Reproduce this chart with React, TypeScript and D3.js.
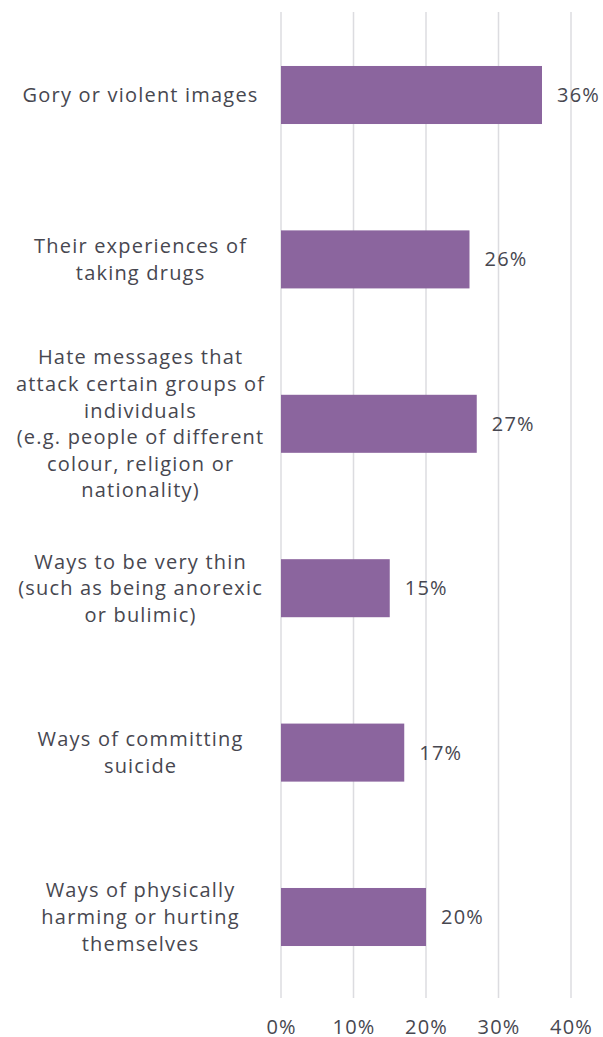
import React from "react";
import * as d3 from "d3";

const categories: string[][] = [
  ["Gory or violent images"],
  ["Their experiences of", "taking drugs"],
  ["Hate messages that", "attack certain groups of", "individuals", "(e.g. people of different", "colour, religion or", "nationality)"],
  ["Ways to be very thin", "(such as being anorexic", "or bulimic)"],
  ["Ways of committing", "suicide"],
  ["Ways of physically", "harming or hurting", "themselves"],
];
const values: number[] = [36, 26, 27, 15, 17, 20];
const ticks: number[] = [0, 10, 20, 30, 40];

const W = 603;
const H = 1037;
const FONT = "'Open Sans', sans-serif";
const TEXT = "#474750";
const FS = 20;
const LS = 1.2;

export default function App() {
  const x = d3.scaleLinear().domain([0, 40]).range([281, 571]);
  const y = d3
    .scaleBand<number>()
    .domain(d3.range(categories.length))
    .range([12.8, 999.2])
    .paddingInner(0.647)
    .paddingOuter(0.3235);
  const lh = 26.6;
  return (
    <svg width={W} height={H} style={{ position: "absolute", left: 0, top: 0 }}>
      {ticks.map((t) => (
        <line key={t} x1={x(t)} x2={x(t)} y1={12} y2={998} stroke="#dcdce0" strokeWidth={1.5} />
      ))}
      {values.map((v, i) => (
        <rect key={i} x={x(0)} y={y(i)} width={x(v) - x(0)} height={y.bandwidth()} fill="#8b659e" />
      ))}
      {values.map((v, i) => (
        <text key={i} x={x(v) + 15} y={(y(i) as number) + y.bandwidth() / 2} dy="0.35em" fontFamily={FONT} fontSize={FS} letterSpacing={LS} fill={TEXT}>
          {v}%
        </text>
      ))}
      {categories.map((lines, i) => {
        const cy = (y(i) as number) + y.bandwidth() / 2;
        const start = cy - ((lines.length - 1) * lh) / 2;
        return (
          <text key={i} textAnchor="middle" fontFamily={FONT} fontSize={FS} letterSpacing={LS} fill={TEXT}>
            {lines.map((l, j) => (
              <tspan key={j} x={140.6} y={start + j * lh} dy="0.35em">
                {l}
              </tspan>
            ))}
          </text>
        );
      })}
      {ticks.map((t) => (
        <text key={t} x={x(t) + 0.6} y={1027} dy="0.35em" textAnchor="middle" fontFamily={FONT} fontSize={FS} letterSpacing={LS} fill={TEXT}>
          {t}%
        </text>
      ))}
    </svg>
  );
}
